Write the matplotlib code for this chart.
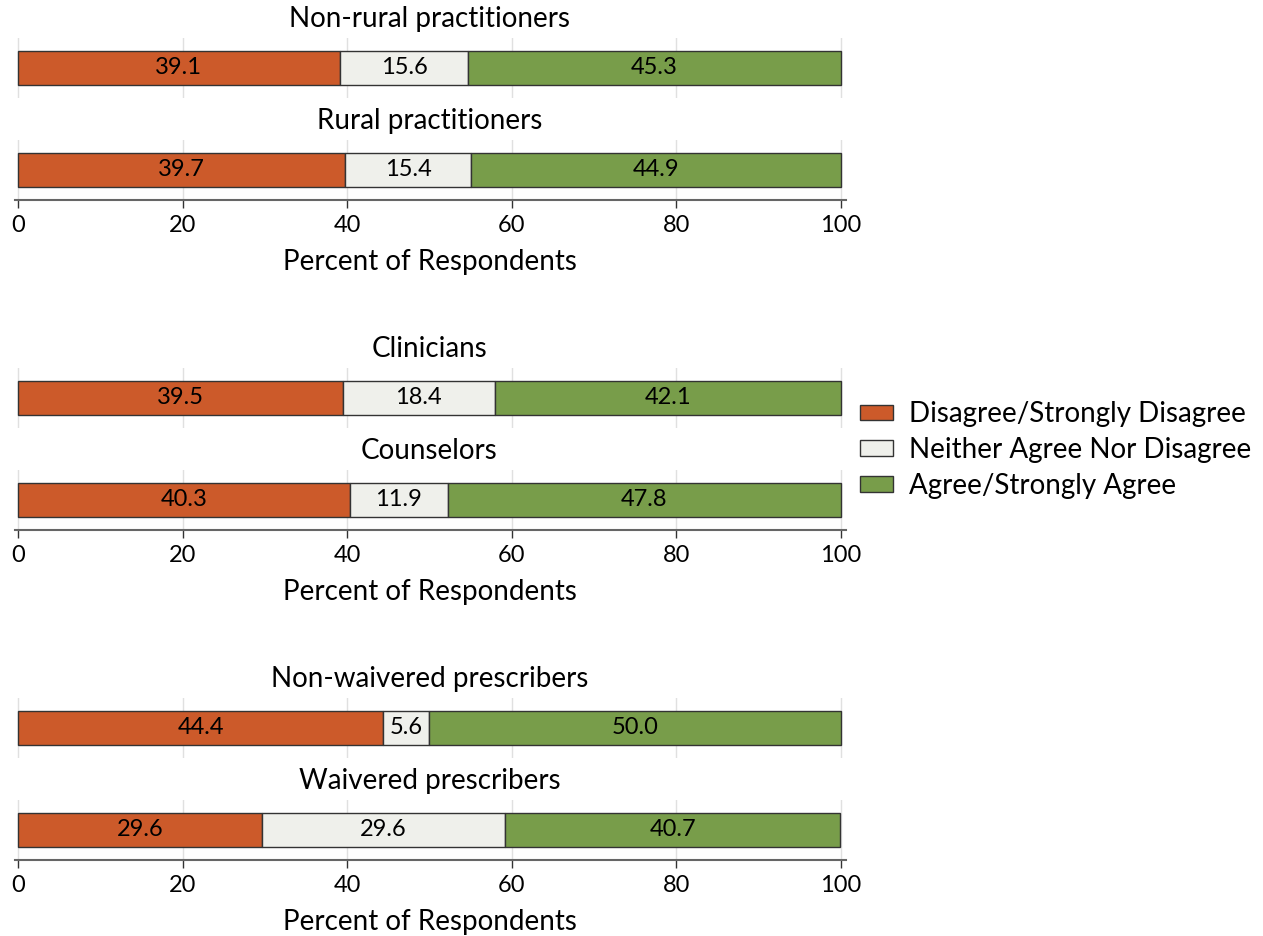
import matplotlib
matplotlib.use("Agg")
import matplotlib.pyplot as plt
from matplotlib.patches import Patch

plt.rcParams['font.family'] = ['Lato', 'DejaVu Sans']

# data
groups = [
    ["Non-rural practitioners", "Rural practitioners"],
    ["Clinicians", "Counselors"],
    ["Non-waivered prescribers", "Waivered prescribers"],
]
disagree = [[39.1, 39.7], [39.5, 40.3], [44.4, 29.6]]
neither = [[15.6, 15.4], [18.4, 11.9], [5.6, 29.6]]
agree = [[45.3, 44.9], [42.1, 47.8], [50.0, 40.7]]
categories = ["Disagree/Strongly Disagree", "Neither Agree Nor Disagree", "Agree/Strongly Agree"]
ticks = [0, 20, 40, 60, 80, 100]

colors = ["#CC5A2A", "#EFF0EB", "#789D4A"]
W, H = 1263, 936
fig = plt.figure(figsize=(W / 100, H / 100), dpi=100)

x0_px, x100_px = 18, 841
ppu = (x100_px - x0_px) / 100.0
xmin, xmax = -0.4, 100.6
left = (x0_px + xmin * ppu) / W
width = (xmax - xmin) * ppu / W

panel_off = [0, 330, 660]
sub_top = [38, 140]      # top pixel of each sub-axes within a panel
sub_h = 60
fs_val = 17
fs_tick = 17
fs_txt = 20

for p in range(3):
    for s in range(2):
        top = panel_off[p] + sub_top[s]
        ax = fig.add_axes([left, 1 - (top + sub_h) / H, width, sub_h / H])
        vals = [disagree[p][s], neither[p][s], agree[p][s]]
        start = 0
        for v, c in zip(vals, colors):
            ax.barh(0, v, left=start, height=0.57, color=c, edgecolor="#333333",
                    linewidth=1.0, zorder=3)
            ax.text(start + v / 2, 0, f"{v:.1f}", ha="center", va="center",
                    fontsize=fs_val, color="black", zorder=4)
            start += v
        ax.set_xlim(xmin, xmax)
        ax.set_ylim(-0.5, 0.5)
        ax.set_yticks([])
        for x in ticks:
            ax.axvline(x, color="#E0E0E0", linewidth=1, zorder=1)
        for sp in ["top", "right", "left"]:
            ax.spines[sp].set_visible(False)
        ax.set_xticks(ticks)
        if s == 1:
            ax.spines["bottom"].set_color("#666666")
            ax.spines["bottom"].set_linewidth(1.5)
            ax.tick_params(axis="x", length=6, width=1, color="#333333",
                           labelsize=fs_tick, pad=5)
            ax.set_xlabel("Percent of Respondents", fontsize=fs_txt, labelpad=9)
        else:
            ax.spines["bottom"].set_visible(False)
            ax.tick_params(axis="x", length=0, labelbottom=False)
        fig.text((x0_px + x100_px) / 2 / W, 1 - (top - 19) / H, groups[p][s],
                 ha="center", va="center", fontsize=fs_txt)

handles = [Patch(facecolor=c, edgecolor="#333333", label=l) for c, l in zip(colors, categories)]
fig.legend(handles=handles, loc="center left", bbox_to_anchor=(860 / W, 1 - 450 / H),
           frameon=False, fontsize=fs_txt, handlelength=1.2, handleheight=0.5,
           handletextpad=0.55, labelspacing=0.35, borderpad=0, borderaxespad=0)

fig.savefig("out.png", dpi=100)
